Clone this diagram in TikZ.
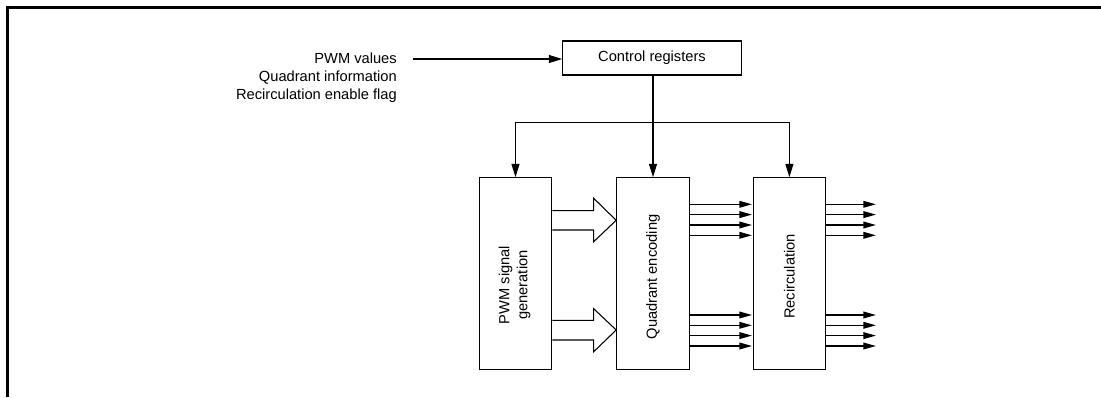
\documentclass[tikz,border=0pt]{standalone}
\usepackage{fontspec}
\setmainfont{Liberation Sans}
\usetikzlibrary{arrows.meta}
\begin{document}
\begin{tikzpicture}[x=0.75pt,y=-0.75pt,
  every node/.style={font=\fontsize{11}{13.5}\selectfont, inner sep=0pt},
  blk/.style={draw, line width=0.8pt, minimum width=54.4pt, minimum height=143.7pt},
  arr/.style={line width=0.8pt, -{Triangle[length=10pt,width=6pt]}},
  sig/.style={line width=1.1pt, -{Triangle[length=9.5pt,width=5pt]}},
  wide/.style={line width=0.8pt},
  lbl/.style={rotate=90, align=center}]
\useasboundingbox (0,0) rectangle (1101,397);
\draw[line width=1.6pt] (7.5,397) -- (7.5,7.5) -- (1101,7.5);

% input text
\node[anchor=base east] (in1) at (397,63.6) {PWM values};
\node[anchor=base east] (in2) at (397,81.4) {Quadrant information};
\node[anchor=base east] (in3) at (397,99.2) {Recirculation enable flag};
\coordinate (inpstart) at (413,59);

% control registers
\node[draw, line width=0.8pt, minimum width=134pt, minimum height=25.5pt] (ctrl) at (652,58) {Control registers};

% blocks
\node[blk] (pwm) at (515.5,273.5) {};
\node[blk] (qe) at (653,273.5) {};
\node[blk] (rc) at (789.4,273.5) {};
\node[lbl] (pwmt) at (514.5,285) {PWM signal\\generation};
\node[lbl] (qet) at (653,277) {Quadrant encoding};
\node[lbl] (rct) at (789.4,276.5) {Recirculation};

% connectors
\draw[arr] (inpstart) -- (ctrl.west |- inpstart);
\draw[arr] (ctrl.south -| qe.north) -- (qe.north);
\coordinate (bus) at (653,122.7);
\draw[arr] (bus) -| (pwm.north);
\draw[arr] (bus) -| (rc.north);

% wide arrows
\draw[wide] (pwm.east |- 0,210.7) -- (593.7,210.7) -- (593.7,198.3) -- (qe.west |- 0,220.3) -- (593.7,241.7) -- (593.7,230) -- (pwm.east |- 0,230);
\draw[wide] (pwm.east |- 0,320.3) -- (593.7,320.3) -- (593.7,308.7) -- (qe.west |- 0,330) -- (593.7,351.7) -- (593.7,340) -- (pwm.east |- 0,340);

% signal arrows
\foreach \y in {204.3,214.6,225,235.3,315,325.3,335.6,346}{
  \draw[sig] (qe.east |- 0,\y) -- (752,\y);
  \draw[sig] (rc.east |- 0,\y) -- (876,\y);
}
\end{tikzpicture}
\end{document}
